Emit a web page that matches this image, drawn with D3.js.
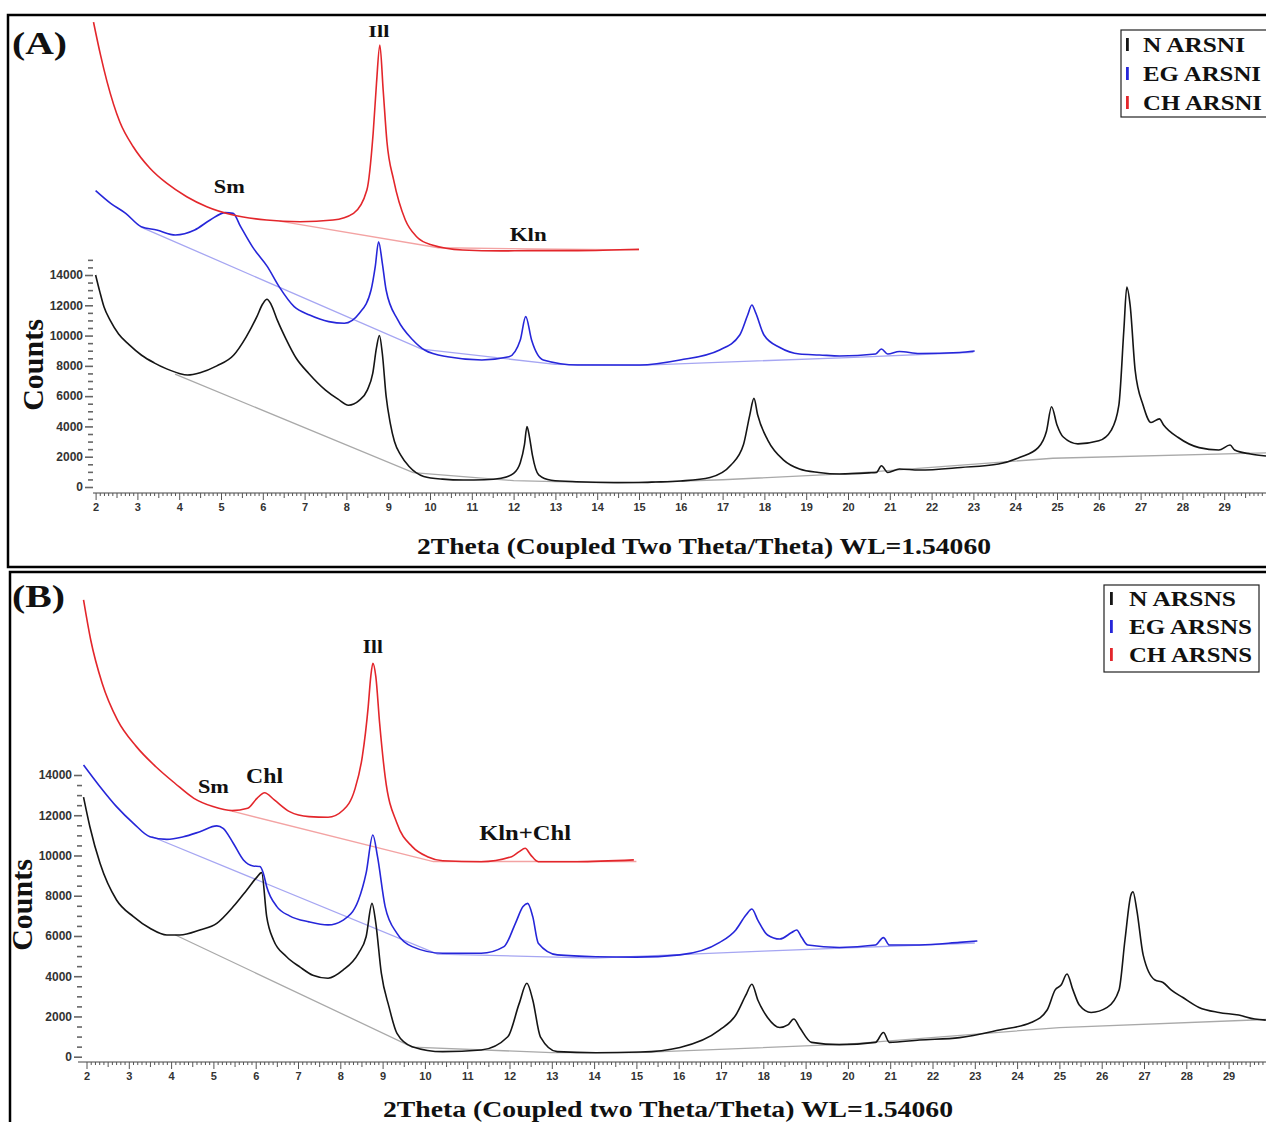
<!DOCTYPE html>
<html><head><meta charset="utf-8">
<script src="https://cdn.jsdelivr.net/npm/d3@7/dist/d3.min.js"></script>
<style>body{margin:0;background:#fff}svg{display:block}</style>
</head><body>
<svg id="c" width="1266" height="1122"></svg>
<script>
// ---------- DATA (2Theta, Counts) ----------
const xTickLabels = d3.range(2, 30);               // 2 .. 29
const yTickLabels = d3.range(0, 14001, 2000);      // 0 .. 14000

// Panel A
const N_ARSNI = [[2.0,14000],[2.1,12900],[2.2,11900],[2.35,11000],[2.55,10100],[2.8,9400],[3.1,8700],[3.4,8200],[3.7,7800],[4.0,7500],[4.2,7400],[4.5,7550],[4.9,8000],[5.3,8700],[5.6,9900],[5.85,11200],[6.0,12100],[6.1,12400],[6.2,12050],[6.35,11000],[6.55,9800],[6.8,8500],[7.1,7500],[7.5,6400],[7.8,5800],[8.05,5400],[8.3,5700],[8.5,6400],[8.63,7500],[8.72,9200],[8.79,10000],[8.86,8800],[8.95,6000],[9.05,4200],[9.15,3000],[9.3,2100],[9.5,1350],[9.85,700],[10.3,520],[10.8,460],[11.3,480],[11.7,580],[12.0,900],[12.16,1600],[12.26,2800],[12.32,4000],[12.38,3300],[12.45,2100],[12.6,800],[12.9,450],[13.5,350],[14.4,300],[15.0,300],[15.4,330],[16.0,400],[16.7,630],[17.2,1450],[17.5,2800],[17.65,4750],[17.75,5850],[17.84,4750],[18.08,3100],[18.46,1780],[18.84,1190],[19.3,960],[19.8,860],[20.5,930],[20.68,960],[20.8,1400],[20.95,960],[21.23,1190],[21.7,1120],[22.7,1290],[23.6,1520],[24.1,1950],[24.55,2600],[24.75,3700],[24.87,5300],[25.0,4100],[25.15,3300],[25.5,2850],[26.0,3050],[26.3,3760],[26.48,5400],[26.6,10400],[26.67,13200],[26.75,12000],[26.87,7700],[27.06,5400],[27.25,4260],[27.45,4500],[27.55,4100],[27.9,3270],[28.4,2600],[28.87,2440],[29.14,2770],[29.25,2440],[29.63,2180],[30.0,2050]];
const N_ARSNI_base = [[3.9,7450],[9.6,950],[12.0,420],[14.5,260],[17.0,480],[20.0,880],[24.9,1900],[30.0,2250]];

const EG_ARSNI = [[2.0,19570],[2.36,18730],[2.72,18070],[3.09,17190],[3.46,16970],[3.91,16640],[4.37,16970],[4.74,17630],[5.10,18120],[5.29,18070],[5.47,17190],[5.75,15870],[6.11,14550],[6.39,13230],[6.75,11910],[7.12,11360],[7.58,10920],[7.95,10810],[8.31,11470],[8.59,13010],[8.69,14550],[8.77,16200],[8.86,14770],[8.95,13010],[9.23,11030],[9.59,9710],[9.87,9050],[10.42,8600],[11.24,8390],[11.89,8600],[12.16,9710],[12.29,11250],[12.43,9710],[12.71,8390],[13.53,8060],[14.45,8060],[15.02,8060],[15.98,8390],[16.93,9050],[17.41,10040],[17.60,11360],[17.70,12020],[17.79,11520],[17.99,10040],[18.37,9210],[18.84,8780],[19.32,8720],[19.80,8650],[20.66,8780],[20.80,9110],[20.95,8780],[21.23,8950],[21.71,8820],[22.67,8880],[23.03,8980]];
const EG_ARSNI_base = [[3.1,17150],[9.8,9100],[13.0,8100],[15.0,8030],[20.0,8550],[23.0,8900]];

const CH_ARSNI = [[1.95,30700],[2.12,28500],[2.27,26800],[2.58,24100],[2.90,22470],[3.30,21050],[3.70,20060],[4.18,19170],[4.66,18510],[5.29,17960],[6.09,17630],[6.89,17520],[7.68,17630],[8.17,18070],[8.49,19610],[8.64,23360],[8.72,26660],[8.80,29190],[8.88,26200],[8.97,22800],[9.13,20280],[9.41,17630],[9.68,16530],[10.05,15980],[10.78,15650],[11.70,15590],[12.34,15610],[13.53,15610],[15.0,15700]];
const CH_ARSNI_base = [[6.4,17560],[10.2,15800],[15.0,15650]];

// Panel B
const N_ARSNS = [[1.93,12900],[2.08,11430],[2.32,9610],[2.71,7790],[3.11,6960],[3.50,6380],[3.90,6050],[4.21,6050],[4.68,6300],[5.08,6630],[5.47,7460],[5.79,8290],[6.02,8900],[6.14,9150],[6.26,6960],[6.42,5800],[6.73,4970],[7.05,4450],[7.35,4050],[7.71,3900],[8.07,4310],[8.43,5140],[8.61,5960],[8.75,7620],[8.84,6630],[8.97,4150],[9.15,2490],[9.34,1160],[9.70,500],[10.42,250],[11.33,330],[11.96,990],[12.23,2650],[12.41,3650],[12.55,2820],[12.73,990],[13.13,250],[14.04,200],[15.09,230],[16.03,460],[16.97,1330],[17.35,2070],[17.59,3070],[17.73,3600],[17.87,2820],[18.10,1950],[18.39,1450],[18.58,1580],[18.72,1870],[18.86,1450],[19.14,710],[19.80,600],[20.65,710],[20.84,1200],[20.98,710],[21.69,830],[22.64,950],[23.58,1330],[24.33,1700],[24.71,2320],[24.90,3320],[25.04,3560],[25.18,4110],[25.32,3320],[25.47,2570],[25.75,2200],[26.13,2450],[26.41,3320],[26.55,5800],[26.69,8040],[26.74,8200],[26.83,7290],[26.98,5060],[27.26,3810],[27.45,3690],[27.64,3320],[27.92,2940],[28.30,2450],[28.77,2200],[29.24,2070],[29.62,1870],[29.88,1820]];
const N_ARSNS_base = [[4.1,6050],[9.7,480],[13.0,200],[15.0,200],[20.0,620],[25.0,1450],[29.9,1850]];

const EG_ARSNS = [[1.93,14500],[2.32,13420],[2.71,12430],[3.11,11600],[3.50,10930],[3.90,10800],[4.29,10930],[4.68,11180],[5.08,11470],[5.23,11350],[5.47,10610],[5.71,9780],[5.94,9480],[6.10,9450],[6.18,9120],[6.26,8450],[6.50,7460],[6.80,7000],[7.26,6700],[7.71,6550],[8.07,6790],[8.43,7790],[8.61,9120],[8.77,11020],[8.88,9940],[9.06,7460],[9.34,6130],[9.70,5470],[10.42,5140],[11.33,5140],[11.87,5470],[12.14,6630],[12.32,7460],[12.43,7620],[12.55,6960],[12.68,5640],[13.13,5060],[14.04,4970],[15.0,4950],[16.03,5060],[16.97,5680],[17.35,6300],[17.59,7040],[17.73,7340],[17.87,6790],[18.10,6050],[18.39,5850],[18.67,6170],[18.79,6300],[18.91,5920],[19.05,5550],[19.80,5430],[20.65,5550],[20.84,5920],[20.98,5550],[21.69,5550],[22.64,5680],[23.06,5750]];
const EG_ARSNS_base = [[3.55,10930],[10.3,5100],[14.0,4900],[18.0,5250],[23.0,5650]];

const CH_ARSNS = [[1.93,22700],[2.10,20710],[2.37,18560],[2.73,16740],[3.18,15410],[3.64,14410],[4.09,13590],[4.54,12840],[4.99,12430],[5.44,12230],[5.81,12350],[6.03,12840],[6.21,13120],[6.44,12760],[6.80,12180],[7.26,11930],[7.71,11900],[8.07,12260],[8.34,13260],[8.52,14910],[8.66,17400],[8.72,18890],[8.77,19550],[8.84,18890],[8.93,16570],[9.06,13920],[9.34,11600],[9.70,10440],[10.06,9940],[10.42,9740],[11.33,9690],[12.05,9940],[12.23,10190],[12.37,10360],[12.50,10030],[12.68,9690],[13.59,9690],[14.94,9780]];
const CH_ARSNS_base = [[5.44,12200],[10.2,9700],[15.0,9700]];

const legendA = ["N ARSNI", "EG ARSNI", "CH ARSNI"];
const legendB = ["N ARSNS", "EG ARSNS", "CH ARSNS"];
const titleA = "2Theta (Coupled Two Theta/Theta) WL=1.54060";
const titleB = "2Theta (Coupled two Theta/Theta) WL=1.54060";
const peaksA = [["Ill", 8.8, 29190], ["Sm", 5.2, 18120], ["Kln", 12.35, 15610]];
const peaksB = [["Ill", 8.77, 19550], ["Sm", 5.0, 12430], ["Chl", 6.21, 13120], ["Kln+Chl", 12.37, 10360]];

// ---------- DRAW ----------
const COL = {N:"#151515", EG:"#2626d9", CH:"#e3262b"};
const BASE = {N:"#a9a9a9", EG:"#a6a6f2", CH:"#f3a3a3"};
const serif = "'Liberation Serif','Times New Roman',serif";
const sans = "'Liberation Sans',Arial,sans-serif";
const svg = d3.select("#c");

svg.append("path").attr("d","M1266,15H8V567H1266").attr("fill","none").attr("stroke","#000").attr("stroke-width",2.5);
svg.append("path").attr("d","M1266,572H10V1122").attr("fill","none").attr("stroke","#000").attr("stroke-width",2.5);

function panel(o){
  const g = svg.append("g");
  const x = d3.scaleLinear().domain([2,29]).range(o.xr);
  const y = d3.scaleLinear().domain([0,14000]).range(o.yr);

  g.append("line").attr("x1",o.xStart).attr("x2",1266).attr("y1",o.xAxisY).attr("y2",o.xAxisY)
    .attr("stroke","#444").attr("stroke-width",1.2);
  const minorX = d3.range(20, Math.round(o.xMax*10)+1).map(i=>i/10).filter(v=>Math.abs(v-Math.round(v))>1e-6);
  const gx = g.append("g").attr("transform",`translate(0,${o.xAxisY})`);
  gx.append("g").call(d3.axisBottom(x).tickValues(minorX.filter(v=>Math.abs(v*2-Math.round(v*2))>1e-6)).tickSize(3).tickFormat(""));
  gx.append("g").call(d3.axisBottom(x).tickValues(minorX.filter(v=>Math.abs(v*2-Math.round(v*2))<1e-6)).tickSize(5).tickFormat(""));
  gx.append("g").call(d3.axisBottom(x).tickValues(xTickLabels.concat(o.xMax>=30?[30]:[])).tickSize(7).tickPadding(3)
      .tickFormat(d=> d<30? d : ""));
  gx.selectAll(".domain").remove();
  gx.selectAll("line").attr("stroke","#555");
  gx.selectAll("text").attr("font-family",sans).attr("font-weight","bold").attr("font-size",11).attr("fill","#333");

  const gy = g.append("g").attr("transform",`translate(${o.yAxisX},0)`);
  gy.append("g").call(d3.axisLeft(y).tickValues(d3.range(500,o.yMax+1,1000).concat(o.yMax>14000?[15000]:[])).tickSize(5).tickFormat(""));
  gy.append("g").call(d3.axisLeft(y).tickValues(d3.range(1000,o.yMax+1,2000).filter(v=>v<=14000)).tickSize(5).tickFormat(""));
  gy.append("g").call(d3.axisLeft(y).tickValues(yTickLabels).tickSize(8).tickPadding(2).tickFormat(d3.format("d")));
  gy.selectAll(".domain").remove();
  gy.selectAll("line").attr("stroke","#666").attr("stroke-width",1.6);
  gy.selectAll("text").attr("font-family",sans).attr("font-weight","bold").attr("font-size",12).attr("fill","#333");

  const line = d3.line().x(d=>x(d[0])).y(d=>y(d[1])).curve(d3.curveMonotoneX);
  const lin = d3.line().x(d=>x(d[0])).y(d=>y(d[1]));
  o.series.forEach(s=>{
    g.append("path").attr("d",lin(s.base)).attr("fill","none").attr("stroke",BASE[s.k]).attr("stroke-width",1.3);
  });
  o.series.forEach(s=>{
    g.append("path").attr("d",line(s.data)).attr("fill","none").attr("stroke",COL[s.k]).attr("stroke-width",1.6).attr("stroke-linejoin","round");
  });

  o.peaks.forEach((p,i)=>{
    g.append("text").attr("x",x(p[1])+o.peakDx[i]).attr("y",y(p[2])+o.peakDy[i])
      .attr("text-anchor","middle").attr("font-family",serif).attr("font-weight","bold")
      .attr("font-size",o.peakFs[i]).attr("fill","#111")
      .attr("textLength",o.peakW[i]).attr("lengthAdjust","spacingAndGlyphs").text(p[0]);
  });

  g.append("text").attr("x",12).attr("y",o.letterY).attr("font-family",serif).attr("font-weight","bold")
    .attr("font-size",32).attr("fill","#111").attr("textLength",o.letterW).attr("lengthAdjust","spacingAndGlyphs").text(o.letter);

  g.append("text").attr("transform",`translate(${o.countsX},${o.countsY}) rotate(-90)`)
    .attr("text-anchor","middle").attr("font-family",serif).attr("font-weight","bold")
    .attr("font-size",30).attr("fill","#111").text("Counts");

  g.append("text").attr("x",o.titleX).attr("y",o.titleY).attr("text-anchor","middle")
    .attr("font-family",serif).attr("font-weight","bold").attr("font-size",24).attr("fill","#111")
    .attr("textLength",o.titleW).attr("lengthAdjust","spacingAndGlyphs").text(o.title);

  const L = o.legend;
  g.append("rect").attr("x",L.x).attr("y",L.y).attr("width",L.w).attr("height",L.h)
    .attr("fill","#fff").attr("stroke","#222").attr("stroke-width",1.2);
  o.legendNames.forEach((nm,i)=>{
    const k = ["N","EG","CH"][i];
    const by = L.y + L.first + i*L.step;
    g.append("rect").attr("x",L.barX).attr("y",by-14).attr("width",2.8).attr("height",13).attr("fill",COL[k]);
    g.append("text").attr("x",L.textX).attr("y",by).attr("font-family",serif).attr("font-weight","bold")
      .attr("font-size",21).attr("fill","#111").attr("textLength",L.tw[i]).attr("lengthAdjust","spacingAndGlyphs").text(nm);
  });
}

panel({
  xr:[95.6,1224.2], yr:[487,275], xAxisY:493, xStart:93, xMax:30, yAxisX:93, yMax:15000,
  series:[{k:"N",data:N_ARSNI,base:N_ARSNI_base},{k:"EG",data:EG_ARSNI,base:EG_ARSNI_base},{k:"CH",data:CH_ARSNI,base:CH_ARSNI_base}],
  peaks:peaksA, peakDx:[-1,0,0], peakDy:[-8,-20,-10], peakFs:[17,18,18], peakW:[21,31,37],
  letter:"(A)", letterY:54, letterW:55, countsX:43, countsY:365, titleX:704, titleY:554, titleW:574, title:titleA,
  legend:{x:1121,y:30,w:150,h:87,first:22,step:29,barX:1126,textX:1143,tw:[102,118,119]}, legendNames:legendA
});
panel({
  xr:[86.5,1228.6], yr:[1056.7,775], xAxisY:1062, xStart:78, xMax:29.8, yAxisX:82, yMax:14000,
  series:[{k:"N",data:N_ARSNS,base:N_ARSNS_base},{k:"EG",data:EG_ARSNS,base:EG_ARSNS_base},{k:"CH",data:CH_ARSNS,base:CH_ARSNS_base}],
  peaks:peaksB, peakDx:[0,0,0,0], peakDy:[-10,-14,-10,-8], peakFs:[18,18,20,20], peakW:[20,31,37,92],
  letter:"(B)", letterY:607, letterW:53, countsX:32, countsY:905, titleX:668, titleY:1117, titleW:570, title:titleB,
  legend:{x:1104,y:585,w:155,h:87,first:21,step:28,barX:1110,textX:1129,tw:[107,123,123]}, legendNames:legendB
});
</script>
</body></html>
